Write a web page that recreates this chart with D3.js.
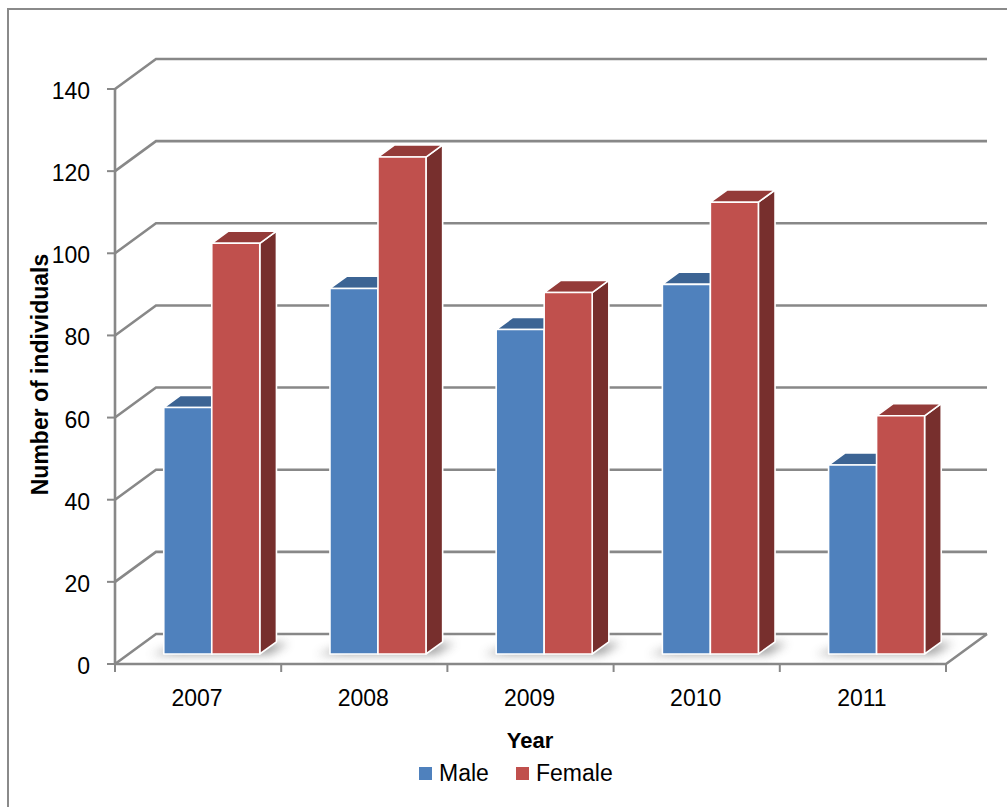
<!DOCTYPE html>
<html>
<head>
<meta charset="utf-8">
<script src="https://cdn.jsdelivr.net/npm/d3@7"></script>
<style>
  body { margin: 0; background: #fff; }
  text { font-family: "Liberation Sans", Arial, sans-serif; fill: #000; }
</style>
</head>
<body>
<svg id="chart" width="1007" height="807"></svg>
<script>
const years = ["2007", "2008", "2009", "2010", "2011"]
const seriesNames = ["Male", "Female"]
const male = [60, 89, 79, 90, 46]
const female = [100, 121, 88, 110, 58]
const yTicks = [0, 20, 40, 60, 80, 100, 120, 140]

const frontColor = { Male: "#4F81BD", Female: "#C0504D" }
const topColor = { Male: "#3C6494", Female: "#943B39" }
const sideColor = { Male: "#2F5077", Female: "#772F2D" }
const gridColor = "#888"

const svg = d3.select("#chart")

// frame
svg.append("path")
    .attr("d", "M8,807 V9 H1007")
    .attr("fill", "none")
    .attr("stroke", "#8a8a8a")
    .attr("stroke-width", 2)

const x = d3.scaleBand(years, [115, 946])
const y = d3.scaleLinear([0, 140], [664, 89])
const inner = d3.scaleBand(seriesNames, [0, 96])
// depth (z: 0 = front edge, 1 = back wall)
const zx = d3.scaleLinear([0, 1], [0, 41])
const zy = d3.scaleLinear([0, 1], [0, -30])
const P = (xp, v, z) => [xp + zx(z), y(v) + zy(z)]
const poly = pts => "M" + pts.map(p => p.join(",")).join("L") + "Z"

const defs = svg.append("defs")
defs.append("filter").attr("id", "blur")
    .attr("x", "-30%").attr("y", "-100%").attr("width", "160%").attr("height", "300%")
    .append("feGaussianBlur").attr("stdDeviation", 5)

const xLeft = x.range()[0], xRight = x.range()[1]

// back wall gridlines + side wall diagonals
const grid = svg.append("g")
    .attr("stroke", gridColor)
    .attr("stroke-width", 2.6)
    .attr("fill", "none")
grid.selectAll("path")
    .data(yTicks)
    .join("path")
    .attr("d", v => "M" + P(xLeft, v, 0) + "L" + P(xLeft, v, 1) + "L" + P(xRight, v, 1))

// floor front + right edges
svg.append("path")
    .attr("d", "M" + P(xLeft, 0, 0) + "L" + P(xRight, 0, 0) + "L" + P(xRight, 0, 1))
    .attr("fill", "none")
    .attr("stroke", gridColor)
    .attr("stroke-width", 2.6)

// value axis line and ticks
svg.append("line")
    .attr("x1", xLeft).attr("x2", xLeft)
    .attr("y1", y(140)).attr("y2", y(0))
    .attr("stroke", gridColor).attr("stroke-width", 2.6)

svg.append("g")
    .selectAll("line")
    .data(yTicks)
    .join("line")
    .attr("x1", xLeft - 8).attr("x2", xLeft)
    .attr("y1", d => y(d)).attr("y2", d => y(d))
    .attr("stroke", gridColor).attr("stroke-width", 2)

svg.append("g")
    .attr("font-size", 23)
    .attr("text-anchor", "end")
    .selectAll("text")
    .data(yTicks)
    .join("text")
    .attr("x", 90)
    .attr("y", d => y(d) + 2)
    .attr("dy", "0.35em")
    .text(d => d)

// category ticks and labels
const catEdges = years.map(d => x(d)).concat([xRight])
svg.append("g")
    .selectAll("line")
    .data(catEdges)
    .join("line")
    .attr("x1", d => d).attr("x2", d => d)
    .attr("y1", y(0)).attr("y2", y(0) + 8)
    .attr("stroke", gridColor).attr("stroke-width", 2)

svg.append("g")
    .attr("font-size", 23)
    .attr("text-anchor", "middle")
    .selectAll("text")
    .data(years)
    .join("text")
    .attr("x", d => x(d) + x.bandwidth() / 2 - 1)
    .attr("y", 706)
    .text(d => d)

// bars
const z0 = 1 / 3, z1 = 0.74
const pad = (x.bandwidth() - 96) / 2
const bars = years.flatMap((yr, i) => [
    { year: yr, key: "Male", value: male[i] },
    { year: yr, key: "Female", value: female[i] }
])
bars.forEach(d => {
    d.x0 = x(d.year) + pad + inner(d.key)
    d.x1 = d.x0 + inner.bandwidth()
})

// floor shadows
svg.append("g")
    .selectAll("path")
    .data(years)
    .join("path")
    .attr("filter", "url(#blur)")
    .attr("fill", "#7d7d7d")
    .attr("opacity", 0.75)
    .attr("d", yr => {
        const a = x(yr) + pad - 12, b = x(yr) + pad + 96 + 10
        return poly([P(a, 0, z0 - 0.02), P(b, 0, z0 - 0.02), P(b + 4, 0, z1 - 0.05), P(a + 20, 0, z1 - 0.05)])
    })

const barG = svg.append("g")
    .attr("stroke", "#fff")
    .attr("stroke-width", 1.6)
    .attr("stroke-linejoin", "round")
    .selectAll("g")
    .data(bars)
    .join("g")

barG.append("path")
    .attr("fill", d => sideColor[d.key])
    .attr("d", d => poly([P(d.x1, 0, z0), P(d.x1, 0, z1), P(d.x1, d.value, z1), P(d.x1, d.value, z0)]))

barG.append("path")
    .attr("fill", d => topColor[d.key])
    .attr("d", d => poly([P(d.x0, d.value, z0), P(d.x1, d.value, z0), P(d.x1, d.value, z1), P(d.x0, d.value, z1)]))

barG.append("path")
    .attr("fill", d => frontColor[d.key])
    .attr("d", d => poly([P(d.x0, 0, z0), P(d.x1, 0, z0), P(d.x1, d.value, z0), P(d.x0, d.value, z0)]))

// axis titles
svg.append("text")
    .attr("transform", `translate(48,${(y(0) + y(140)) / 2 - 2}) rotate(-90)`)
    .attr("text-anchor", "middle")
    .attr("font-size", 23)
    .attr("font-weight", "bold")
    .text("Number of individuals")

svg.append("text")
    .attr("x", 530)
    .attr("y", 748)
    .attr("text-anchor", "middle")
    .attr("font-size", 22)
    .attr("font-weight", "bold")
    .text("Year")

// legend
const legendX = { Male: 419, Female: 516 }
const legend = svg.append("g")
    .selectAll("g")
    .data(seriesNames)
    .join("g")
    .attr("transform", d => `translate(${legendX[d]},767)`)
legend.append("rect")
    .attr("width", 13).attr("height", 13)
    .attr("fill", d => frontColor[d])
legend.append("text")
    .attr("x", 20)
    .attr("y", 14)
    .attr("font-size", 23)
    .text(d => d)
</script>
</body>
</html>
